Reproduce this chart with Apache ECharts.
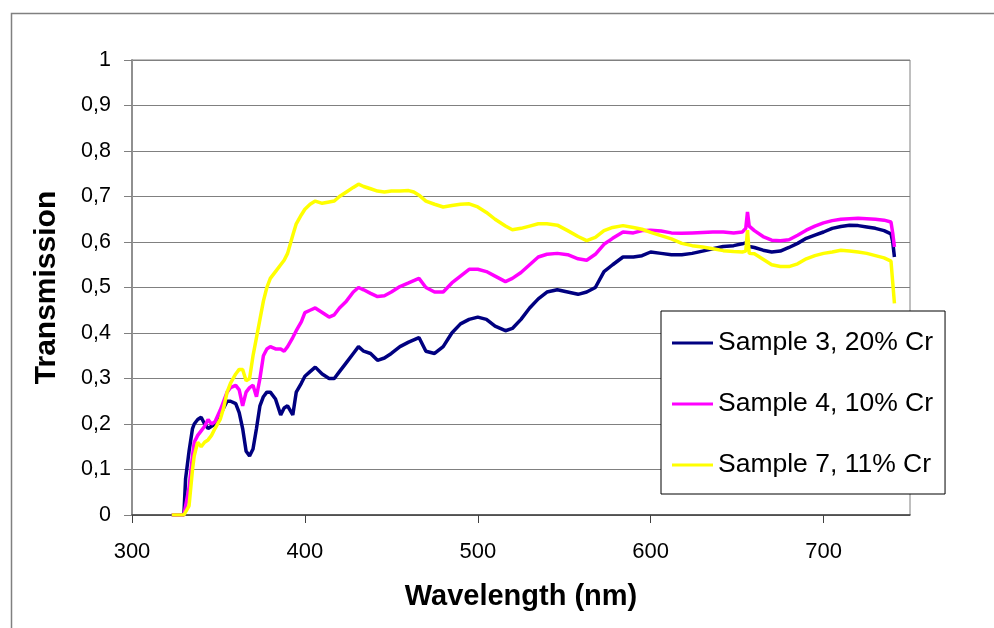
<!DOCTYPE html>
<html>
<head>
<meta charset="utf-8">
<script src="https://cdn.jsdelivr.net/npm/echarts@6/dist/echarts.min.js"></script>
<style>
html,body{margin:0;padding:0;background:#fff;}
#chart{width:994px;height:628px;}
</style>
</head>
<body>
<div id="chart"></div>
<script>
// Wavelength grid (nm)
var wavelengths = [323,330,331,333,335,336,338,340,342,344,346,348,351,353,355,357,360,362,364,366,368,370,372,374,376,378,380,383,386,388,390,393,395,398,400,403,406,410,414,417,420,424,428,431,434,438,442,446,450,455,460,463,466,470,475,480,485,490,495,500,505,510,516,520,525,530,535,540,546,552,558,563,568,573,578,584,590,595,600,606,612,618,624,630,636,642,648,653,655,656,657,660,665,670,675,680,685,690,695,700,705,710,715,720,725,730,735,739,740,741];

var sample3 = [0,0,0.08,0.14,0.19,0.2,0.21,0.215,0.2,0.19,0.195,0.2,0.22,0.235,0.25,0.25,0.245,0.225,0.19,0.14,0.13,0.145,0.19,0.24,0.26,0.27,0.27,0.255,0.22,0.235,0.24,0.22,0.27,0.29,0.305,0.315,0.325,0.31,0.3,0.3,0.315,0.335,0.355,0.37,0.36,0.355,0.34,0.345,0.355,0.37,0.38,0.385,0.39,0.36,0.355,0.37,0.4,0.42,0.43,0.435,0.43,0.415,0.405,0.41,0.43,0.455,0.475,0.49,0.495,0.49,0.485,0.49,0.5,0.535,0.55,0.567,0.567,0.57,0.578,0.575,0.572,0.572,0.575,0.58,0.585,0.59,0.592,0.596,0.598,0.6,0.59,0.588,0.582,0.578,0.58,0.588,0.597,0.608,0.615,0.622,0.63,0.634,0.637,0.636,0.633,0.63,0.625,0.618,0.6,0.567];

var sample4 = [0,0,0,0.06,0.13,0.16,0.175,0.185,0.195,0.21,0.2,0.205,0.23,0.25,0.27,0.28,0.285,0.275,0.24,0.27,0.28,0.285,0.26,0.3,0.35,0.365,0.37,0.365,0.365,0.36,0.37,0.39,0.405,0.425,0.445,0.45,0.455,0.445,0.435,0.44,0.455,0.47,0.49,0.5,0.495,0.487,0.48,0.482,0.49,0.502,0.51,0.515,0.52,0.5,0.49,0.49,0.51,0.525,0.54,0.54,0.535,0.525,0.513,0.52,0.533,0.55,0.567,0.573,0.575,0.572,0.563,0.56,0.573,0.595,0.608,0.622,0.62,0.625,0.626,0.624,0.62,0.619,0.62,0.621,0.622,0.622,0.62,0.622,0.63,0.666,0.635,0.625,0.612,0.604,0.603,0.605,0.615,0.626,0.635,0.642,0.647,0.65,0.651,0.652,0.651,0.65,0.648,0.644,0.62,0.589];

var sample7 = [0,0,0,0.02,0.1,0.13,0.16,0.15,0.16,0.165,0.175,0.19,0.21,0.235,0.27,0.29,0.31,0.32,0.32,0.295,0.3,0.35,0.39,0.43,0.47,0.5,0.52,0.535,0.55,0.56,0.575,0.615,0.64,0.66,0.672,0.683,0.69,0.685,0.688,0.69,0.7,0.71,0.72,0.727,0.722,0.717,0.712,0.71,0.712,0.712,0.713,0.71,0.703,0.69,0.683,0.677,0.68,0.683,0.684,0.677,0.665,0.65,0.635,0.627,0.63,0.635,0.64,0.64,0.637,0.625,0.612,0.603,0.61,0.625,0.632,0.636,0.632,0.628,0.621,0.614,0.607,0.597,0.592,0.589,0.585,0.581,0.579,0.578,0.58,0.626,0.575,0.574,0.562,0.55,0.546,0.546,0.552,0.563,0.57,0.575,0.578,0.582,0.58,0.578,0.575,0.57,0.565,0.558,0.555,0.465];

var seriesNames = ['Sample 3, 20% Cr','Sample 4, 10% Cr','Sample 7, 11% Cr'];
var seriesColors = ['#000080','#FF00FF','#FFFF00'];
var xTicks = [300,400,500,600,700];

function pairs(vals){ return wavelengths.map(function(w,i){ return [w, vals[i]]; }); }

var FONT = 'Arial, "Liberation Sans", sans-serif';
var chart = echarts.init(document.getElementById('chart'), null, {renderer:'canvas'});
var allVals = [sample3, sample4, sample7];

chart.setOption({
  animation:false,
  backgroundColor:'#ffffff',
  graphic:[{type:'rect', shape:{x:11.5,y:13.5,width:1000,height:700}, style:{fill:'none', stroke:'#808080', lineWidth:1.5}, silent:true, z:-1}],
  grid:{left:132, top:60, right:84, bottom:113, show:true, borderColor:'#808080', borderWidth:1},
  legend:{
    orient:'vertical', left:661, top:311,
    data:seriesNames,
    icon:'rect', itemWidth:41, itemHeight:3, itemGap:31,
    padding:[17,12,14,11],
    backgroundColor:'#ffffff', borderColor:'#000000', borderWidth:1,
    textStyle:{fontFamily:FONT, fontSize:26.5, color:'#000', lineHeight:30, padding:[0,0,0,0]},
    selectedMode:false
  },
  xAxis:{
    type:'value', min:300, max:750, interval:100,
    name:'Wavelength (nm)', nameLocation:'middle', nameGap:67,
    nameTextStyle:{fontFamily:FONT, fontSize:29, fontWeight:'bold', color:'#000'},
    axisLine:{show:true, onZero:false, lineStyle:{color:'#404040', width:1.5}},
    axisTick:{show:true, inside:false, length:8, lineStyle:{color:'#404040'}},
    axisLabel:{fontFamily:FONT, fontSize:22, color:'#000', margin:26, showMaxLabel:false,
      formatter:function(v){ return xTicks.indexOf(v)>=0 ? String(v) : ''; }},
    splitLine:{show:false}
  },
  yAxis:{
    type:'value', min:0, max:1, interval:0.1,
    name:'Transmission', nameLocation:'middle', nameGap:70,
    nameTextStyle:{fontFamily:FONT, fontSize:30, fontWeight:'bold', color:'#000'},
    axisLine:{show:true, onZero:false, lineStyle:{color:'#909090', width:2}},
    axisTick:{show:true, inside:false, length:8, lineStyle:{color:'#808080'}},
    axisLabel:{fontFamily:FONT, fontSize:21.5, color:'#000', margin:21,
      formatter:function(v){ return String(+v.toFixed(1)).replace('.', ','); }},
    splitLine:{show:true, lineStyle:{color:'#808080', width:1}}
  },
  series: seriesNames.map(function(n,i){
    return {name:n, type:'line', data:pairs(allVals[i]), showSymbol:false, symbol:'none',
      lineStyle:{color:seriesColors[i], width:3.5}, itemStyle:{color:seriesColors[i]}, z:2+i};
  })
});
</script>
</body>
</html>
